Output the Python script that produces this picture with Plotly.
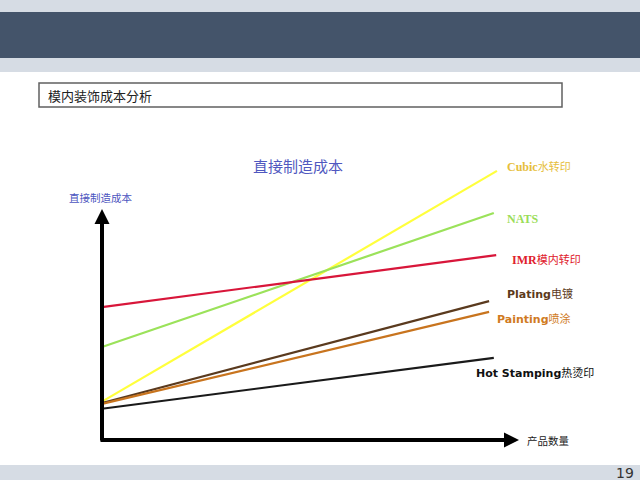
import plotly.graph_objects as go

# series: cost at start / end of quantity range (arbitrary units)
series_names = ["Cubic水转印", "NATS", "IMR模内转印", "Plating电镀", "Painting喷涂", "Hot Stamping热烫印"]
qty_start = [0, 0, 0, 0, 0, 0]
qty_end = [10.05, 9.97, 10.03, 9.85, 9.85, 9.97]
cost_start = [1.67, 4.04, 5.78, 1.61, 1.57, 1.36]
cost_end = [11.70, 9.87, 8.04, 6.04, 5.57, 3.57]
line_colors = ["#FFFF3C", "#9BE25A", "#D8163A", "#5A3A1E", "#C8741E", "#1A1A1A"]

slide_title = "模内装饰成本分析"
chart_title = "直接制造成本"
y_label = "直接制造成本"
x_label = "产品数量"
page_no = "19"

W, H = 640, 480
X0, XS = 102, 39.3   # pixel of qty 0, px per qty unit
Y0, YS = 440, 23.0   # pixel of cost 0, px per cost unit

def px(x):
    return x / W

def py(y):
    return 1 - y / H

CJK = "Noto Sans CJK SC"
SERIF = "Liberation Serif"
SANS = "DejaVu Sans"

fig = go.Figure()

for i, name in enumerate(series_names):
    fig.add_trace(go.Scatter(x=[qty_start[i], qty_end[i]], y=[cost_start[i], cost_end[i]],
                             mode="lines", name=name, line=dict(color=line_colors[i], width=2.2)))

# background bands
fig.add_shape(type="rect", xref="paper", yref="paper", x0=0, x1=1, y0=py(72), y1=1,
              fillcolor="#D6DCE4", line_width=0, layer="below")
fig.add_shape(type="rect", xref="paper", yref="paper", x0=0, x1=1, y0=py(58), y1=py(12),
              fillcolor="#44546A", line_width=0, layer="below")
fig.add_shape(type="rect", xref="paper", yref="paper", x0=0, x1=1, y0=0, y1=py(465),
              fillcolor="#D6DCE4", line_width=0, layer="below")
# title box
fig.add_shape(type="rect", xref="paper", yref="paper", x0=px(39), x1=px(562), y0=py(107), y1=py(83),
              fillcolor="white", line=dict(color="#606060", width=1.5), layer="below")

def note(x, y, text, size, color, fam=CJK, xanchor="center"):
    return dict(x=px(x), y=py(y), xref="paper", yref="paper", text=text, showarrow=False,
                xanchor=xanchor, yanchor="middle", font=dict(family=fam, size=size, color=color))

ann = [
    note(46, 95.5, slide_title, 13, "#222222", xanchor="left"),
    note(625, 472.5, page_no, 14, "#333333", fam=SANS),
    note(298, 165, chart_title, 15, "#5058C0"),
    note(101, 197, y_label, 10.5, "#4C55C0"),
    note(525, 440, x_label, 10.5, "#222222", xanchor="left"),
]

# axis arrows
ann.append(dict(x=0, y=(Y0 - 209) / YS, ax=0, ay=(Y0 - 442) / YS, xref="x", yref="y", axref="x", ayref="y",
                text="", showarrow=True, arrowhead=2, arrowsize=0.75, arrowwidth=4, arrowcolor="black"))
ann.append(dict(x=(519 - X0) / XS, y=0, ax=(99 - X0) / XS, ay=0, xref="x", yref="y", axref="x", ayref="y",
                text="", showarrow=True, arrowhead=2, arrowsize=0.75, arrowwidth=4, arrowcolor="black"))

def lab(en, zh, fam, size):
    return ("<span style='font-family:%s;font-size:%dpx'><b>%s</b></span>" % (fam, size, en)
            + "<span style='font-family:%s'>%s</span>" % (CJK, zh))

label_text = [lab("Cubic", "水转印", SERIF, 12), lab("NATS", "", SERIF, 12), lab("IMR", "模内转印", SERIF, 12),
              lab("Plating", "电镀", SANS, 11), lab("Painting", "喷涂", SANS, 11), lab("Hot Stamping", "热烫印", SANS, 11)]
label_pos = [(505, 166), (505, 219), (510, 259), (505, 293), (495, 318), (474, 372)]
label_colors = ["#E6BE3C", "#9BDD5A", "#E0202C", "#5C3A1A", "#D07A22", "#111111"]
for t, (lx, ly), c in zip(label_text, label_pos, label_colors):
    ann.append(note(lx, ly, t, 11, c, fam=CJK, xanchor="left"))

fig.update_layout(
    width=W, height=H,
    margin=dict(l=0, r=0, t=0, b=0),
    paper_bgcolor="white", plot_bgcolor="rgba(0,0,0,0)",
    showlegend=False,
    annotations=ann,
    xaxis=dict(range=[(0 - X0) / XS, (W - X0) / XS], visible=False, fixedrange=True),
    yaxis=dict(range=[(Y0 - H) / YS, Y0 / YS], visible=False, fixedrange=True),
)

fig.write_html("out.html", config={"displayModeBar": False},
               post_script="document.body.style.margin='0';")
